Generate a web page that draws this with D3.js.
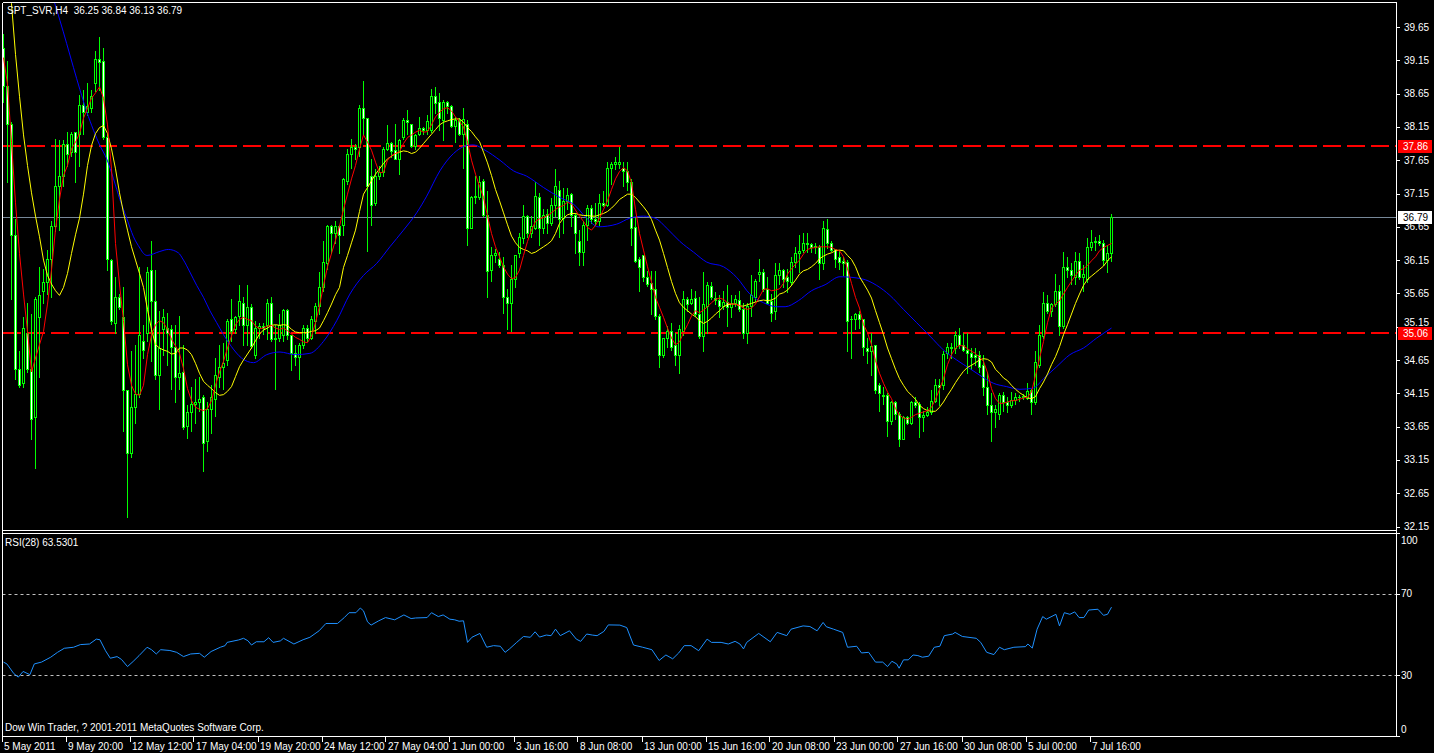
<!DOCTYPE html>
<html><head><meta charset="utf-8">
<script src="https://cdn.jsdelivr.net/npm/d3@7"></script>
<style>
body{margin:0;background:#000;overflow:hidden}
svg text{font-family:"Liberation Sans",Arial,sans-serif;font-size:10px;fill:#fff}
</style></head>
<body><svg id="c" width="1434" height="753"></svg>
<script>
const symbolTitle = "SPT_SVR,H4  36.25 36.84 36.13 36.79";
const rsiTitle = "RSI(28) 63.5301";
const footer = "Dow Win Trader, ? 2001-2011 MetaQuotes Software Corp.";

const openP = [39.34,38.76,38.20,36.53,34.52,34.30,35.06,34.52,33.79,35.29,35.69,35.82,36.17,36.66,37.26,37.42,37.90,37.77,38.08,38.05,
38.48,38.38,38.43,38.81,39.17,39.14,38.00,36.15,35.21,35.59,35.29,34.20,33.26,33.94,34.14,34.93,35.06,36.00,35.54,34.42,
35.11,35.13,35.11,34.85,34.40,34.47,33.66,33.87,33.99,34.02,34.09,33.43,33.92,34.07,34.40,34.55,34.65,35.26,35.11,35.31,
35.51,35.18,35.44,34.73,35.13,35.16,35.18,35.51,34.96,34.98,35.03,35.40,35.03,34.75,34.70,34.88,35.13,34.98,35.24,35.46,
35.74,36.10,36.66,36.55,36.66,36.68,37.34,37.75,37.85,37.85,38.44,38.28,37.42,37.01,37.42,37.47,37.82,37.91,37.80,37.67,
38.00,38.25,38.20,37.87,38.05,38.13,38.10,38.10,38.62,38.52,38.25,38.53,38.46,38.17,38.25,38.05,38.19,36.63,37.10,37.09,
37.34,36.83,36.00,36.22,36.17,36.07,35.59,35.51,35.87,36.25,36.48,36.81,36.55,36.63,37.10,36.63,36.84,36.71,36.98,37.21,
36.78,37.04,37.14,36.83,36.43,36.27,36.68,36.93,36.76,36.73,37.01,36.98,37.54,37.59,37.60,37.54,37.49,37.32,36.65,36.17,
36.22,35.89,35.81,35.72,35.31,34.73,34.98,35.08,34.88,34.73,35.08,35.56,35.51,35.58,35.34,35.01,35.46,35.76,35.58,35.55,
35.46,35.52,35.44,35.51,35.55,35.41,35.06,35.46,35.59,35.94,35.97,35.72,35.54,35.39,35.92,36.00,35.89,35.82,36.12,36.25,
36.30,36.40,36.39,36.34,36.35,36.10,36.62,36.40,36.31,36.19,36.13,36.12,35.26,35.26,35.34,35.26,34.83,34.78,34.88,34.27,
34.13,34.12,33.74,34.02,33.84,33.47,33.79,33.71,34.02,33.99,33.79,33.82,33.87,34.04,34.28,34.27,34.75,34.85,34.83,35.03,
34.87,34.80,34.75,34.72,34.73,34.57,34.25,33.97,33.87,33.84,34.13,34.02,33.98,34.05,34.10,34.09,34.08,34.20,34.02,34.58,
35.01,35.50,35.39,35.49,35.69,35.16,36.05,36.00,35.89,36.14,35.89,35.87,36.35,36.42,36.44,36.41,36.15,36.25];

const highP = [39.55,39.14,38.23,36.76,34.78,35.29,35.51,35.34,35.59,36.05,36.02,36.30,36.73,37.97,37.95,37.95,38.08,38.08,38.08,38.63,
38.71,38.81,38.71,39.29,39.50,39.34,38.03,36.17,35.90,35.64,35.74,34.20,34.78,34.88,36.05,35.18,36.05,36.43,36.00,35.39,
35.41,35.36,35.18,35.18,35.31,34.88,33.97,34.25,34.37,34.40,34.12,34.02,34.27,34.68,34.88,34.91,35.26,35.57,35.31,35.77,
35.59,35.77,35.49,35.24,35.21,35.21,35.57,35.59,35.18,35.34,35.41,35.41,35.03,34.88,34.91,35.18,35.18,35.31,35.51,35.97,
36.43,36.68,36.68,36.73,36.68,37.39,37.82,37.97,37.90,38.48,38.84,38.28,37.67,37.52,37.57,37.85,38.18,37.92,38.20,37.97,
38.28,38.41,38.20,38.05,38.30,38.15,38.33,38.72,38.75,38.66,38.56,38.54,38.48,38.30,38.28,38.43,38.25,37.11,37.42,37.42,
37.37,37.19,36.35,36.32,36.27,36.20,35.72,36.07,36.22,36.55,36.98,36.83,36.81,37.32,37.16,36.91,36.91,37.08,37.52,37.34,
37.24,37.24,37.16,36.86,36.60,36.73,36.98,36.97,37.01,37.14,37.19,37.62,37.62,37.70,37.85,37.62,37.62,37.37,36.78,36.20,
36.22,35.99,35.99,35.99,35.34,34.98,35.16,35.21,35.06,35.18,35.69,35.59,35.72,35.69,35.59,35.97,35.82,35.82,35.67,35.62,
35.69,35.77,35.62,35.62,35.69,35.51,35.51,35.92,35.87,36.17,36.02,35.89,35.64,36.10,36.10,36.02,36.02,36.20,36.35,36.53,
36.55,36.55,36.40,36.40,36.38,36.73,36.77,36.43,36.32,36.30,36.20,36.15,35.31,35.36,35.39,35.26,34.98,35.06,34.88,34.30,
34.25,34.15,34.04,34.04,33.87,33.81,33.81,34.04,34.09,34.02,33.89,33.94,34.20,34.37,34.37,34.78,34.91,34.91,35.08,35.13,
35.06,35.06,34.83,34.83,34.78,34.73,34.47,34.15,33.97,34.15,34.17,34.09,34.17,34.15,34.12,34.14,34.30,34.22,34.78,35.18,
35.67,35.62,35.51,35.94,35.77,36.27,36.20,36.10,36.27,36.25,36.07,36.48,36.60,36.50,36.53,36.45,36.37,36.84];

const lowP = [38.53,37.32,35.57,34.37,34.25,34.25,34.47,33.46,33.03,34.40,35.51,35.64,35.59,36.58,36.60,37.26,37.57,37.72,37.32,37.57,
38.05,38.33,38.38,38.69,38.71,37.97,36.00,35.19,35.06,35.41,33.59,32.29,33.20,33.71,34.10,34.68,34.93,34.63,34.37,33.92,
34.73,34.58,34.22,34.02,34.22,33.61,33.48,33.59,33.71,33.89,32.98,33.28,33.56,33.81,34.25,34.22,34.58,34.93,35.06,35.18,
34.88,34.88,34.83,34.68,34.98,35.04,34.96,34.93,34.22,34.93,34.93,34.96,34.50,34.57,34.37,34.83,34.93,34.96,35.06,35.34,
35.69,36.02,36.25,36.40,36.25,36.53,37.29,37.54,37.67,37.72,38.03,36.28,36.68,36.98,37.37,37.42,37.80,37.70,37.67,37.44,
37.97,38.05,37.85,37.82,38.03,38.05,38.05,38.08,38.36,38.10,37.95,38.36,38.15,37.92,38.03,37.54,36.38,36.63,37.01,37.06,
36.81,35.59,35.84,36.12,36.05,35.36,35.11,35.08,35.74,36.20,36.40,36.50,36.50,36.61,36.38,36.55,36.55,36.68,36.81,36.50,
36.55,36.91,36.66,36.25,36.07,36.07,36.45,36.71,36.68,36.68,36.96,36.96,37.29,37.52,37.54,37.26,37.21,36.38,36.12,35.69,
35.84,35.76,35.34,35.26,34.55,34.70,34.85,34.80,34.57,34.45,35.03,35.39,35.49,35.31,34.98,34.78,35.06,35.56,35.49,35.29,
35.41,35.16,35.29,35.46,35.39,34.98,34.91,35.31,35.54,35.84,35.69,35.49,35.24,35.26,35.79,35.74,35.67,35.77,36.05,35.97,
36.27,36.27,36.27,36.25,35.87,36.02,36.33,36.28,36.05,36.02,35.92,34.78,34.68,35.11,35.13,34.73,34.60,34.42,34.15,33.89,
33.99,33.51,33.69,33.76,33.36,33.46,33.69,33.69,33.94,33.49,33.59,33.81,33.84,34.02,33.97,34.22,34.68,34.68,34.75,34.83,
34.78,34.45,34.52,34.57,34.47,34.12,33.84,33.43,33.64,33.76,33.89,33.87,33.94,33.99,34.04,34.07,34.07,33.84,33.99,34.55,
34.98,35.36,35.31,35.46,35.03,35.13,35.89,35.79,35.79,35.87,35.69,35.82,36.30,36.30,36.38,36.07,35.97,36.13];

const closeP = [38.76,38.20,36.53,34.52,34.27,35.13,34.52,33.76,35.57,35.62,35.82,36.17,36.66,37.26,37.42,37.90,37.75,38.05,37.77,38.48,
38.38,38.46,38.61,39.17,39.12,38.00,36.17,35.24,35.59,35.44,34.20,33.26,33.94,34.14,35.03,34.80,35.97,35.54,34.42,34.83,
35.29,35.06,34.85,34.40,34.45,33.64,33.87,33.99,34.02,34.07,33.41,33.92,34.09,34.42,34.55,34.60,35.24,35.08,35.29,35.54,
35.18,35.44,34.86,35.13,35.16,35.13,35.51,34.96,34.98,35.18,35.40,35.03,34.75,34.70,34.88,35.13,34.98,35.26,35.46,35.74,
36.12,36.66,36.55,36.66,36.53,37.37,37.75,37.85,37.82,38.44,38.28,37.26,36.98,37.42,37.47,37.82,37.91,37.79,37.67,37.95,
38.25,38.22,37.87,38.03,38.13,38.10,38.24,38.62,38.51,38.28,38.53,38.46,38.17,38.25,38.04,38.27,36.63,37.10,37.11,37.33,
36.83,35.98,36.22,36.25,36.07,35.59,35.51,35.87,36.22,36.50,36.81,36.55,36.66,37.11,36.63,36.83,36.71,36.98,37.26,36.76,
37.04,37.12,36.83,36.55,36.27,36.68,36.93,36.76,36.73,37.01,36.98,37.54,37.59,37.62,37.63,37.49,37.32,36.63,36.13,36.05,
35.89,35.79,35.72,35.31,34.73,34.98,35.08,34.85,34.73,35.11,35.57,35.49,35.56,35.34,35.01,35.49,35.77,35.60,35.55,35.46,
35.52,35.44,35.51,35.56,35.41,35.06,35.46,35.62,35.84,35.97,35.72,35.51,35.36,35.92,36.00,35.87,35.84,36.12,36.26,36.29,
36.40,36.39,36.34,36.36,36.10,36.63,36.40,36.30,36.17,36.12,36.11,35.24,35.27,35.34,35.26,34.84,34.78,34.86,34.20,34.15,
34.11,33.74,34.02,33.84,33.47,33.79,33.71,34.02,33.97,33.79,33.82,33.87,34.04,34.28,34.25,34.74,34.85,34.83,35.03,34.87,
34.80,34.75,34.70,34.69,34.55,34.25,33.97,33.87,33.92,34.12,34.02,33.98,34.05,34.10,34.09,34.11,34.19,34.02,34.62,35.03,
35.51,35.39,35.49,35.68,35.16,36.05,36.00,35.92,36.14,35.89,35.94,36.35,36.42,36.44,36.41,36.15,36.25,36.79];

const maRed = [39.19,38.79,37.92,37.01,36.25,35.64,35.08,34.47,34.68,34.88,35.08,35.49,36.00,36.61,37.06,37.42,37.57,37.82,37.92,38.05,
38.28,38.43,38.58,38.66,38.75,38.58,38.18,37.52,36.40,35.79,35.24,34.58,34.27,34.14,34.12,34.27,34.73,35.03,35.18,35.24,
35.21,35.11,34.96,34.86,34.75,34.52,34.22,34.04,33.94,33.91,33.89,33.92,34.04,34.27,34.47,34.63,34.83,35.01,35.18,35.26,
35.29,35.26,35.24,35.16,35.12,35.13,35.16,35.17,35.13,35.11,35.13,35.09,35.04,34.99,34.96,34.92,34.91,35.01,35.21,35.46,
35.77,36.05,36.25,36.45,36.66,36.91,37.14,37.37,37.57,37.82,38.03,37.92,37.80,37.62,37.46,37.47,37.65,37.72,37.75,37.78,
37.90,37.99,38.03,38.07,38.10,38.07,38.08,38.18,38.30,38.37,38.42,38.44,38.39,38.30,38.23,38.15,37.92,37.65,37.44,37.26,
37.09,36.81,36.55,36.35,36.20,36.05,35.94,35.87,35.89,36.00,36.22,36.43,36.60,36.73,36.77,36.79,36.82,36.86,36.91,36.95,
36.97,37.02,36.99,36.90,36.81,36.73,36.64,36.60,36.67,36.78,36.91,37.04,37.21,37.37,37.48,37.54,37.49,37.31,36.91,36.55,
36.30,36.05,35.82,35.59,35.44,35.29,35.13,34.98,34.88,34.92,35.06,35.18,35.31,35.39,35.36,35.40,35.45,35.51,35.56,35.58,
35.56,35.51,35.49,35.49,35.47,35.43,35.41,35.43,35.49,35.60,35.71,35.72,35.69,35.70,35.72,35.80,35.94,36.02,36.09,36.15,
36.24,36.31,36.33,36.34,36.35,36.35,36.35,36.34,36.31,36.29,36.20,36.02,35.80,35.59,35.43,35.18,35.06,34.88,34.64,34.45,
34.30,34.17,34.07,33.92,33.82,33.78,33.76,33.79,33.83,33.85,33.87,33.89,33.94,34.06,34.21,34.37,34.58,34.73,34.83,34.87,
34.86,34.82,34.78,34.75,34.69,34.63,34.46,34.22,34.07,34.00,34.00,34.02,34.04,34.04,34.06,34.08,34.09,34.17,34.42,34.67,
34.93,35.21,35.43,35.49,35.54,35.64,35.74,35.83,35.92,36.00,36.02,36.07,36.14,36.20,36.29,36.34,36.37,36.40];

const maYellow = [41.40,40.70,40.00,39.24,38.61,38.03,37.57,37.16,36.81,36.50,36.15,35.92,35.79,35.69,35.62,35.74,35.95,36.25,36.53,36.78,
37.14,37.57,37.87,38.05,38.14,38.17,38.05,37.82,37.52,37.16,36.86,36.60,36.35,36.15,35.95,35.74,35.41,35.11,34.88,34.83,
34.80,34.78,34.74,34.75,34.83,34.83,34.80,34.73,34.60,34.45,34.33,34.27,34.22,34.16,34.12,34.13,34.18,34.25,34.40,34.55,
34.65,34.74,34.83,34.94,35.04,35.10,35.13,35.17,35.18,35.17,35.18,35.17,35.11,35.07,35.06,35.06,35.06,35.08,35.09,35.13,
35.24,35.36,35.49,35.63,35.74,36.04,36.22,36.41,36.60,36.88,37.14,37.24,37.34,37.44,37.52,37.60,37.67,37.71,37.75,37.77,
37.79,37.78,37.75,37.77,37.83,37.90,37.97,38.04,38.11,38.18,38.22,38.24,38.26,38.27,38.27,38.22,38.14,38.08,38.00,37.93,
37.77,37.61,37.42,37.21,37.04,36.86,36.68,36.51,36.41,36.34,36.31,36.29,36.25,36.27,36.31,36.35,36.39,36.44,36.55,36.70,
36.78,36.83,36.85,36.85,36.83,36.82,36.82,36.81,36.81,36.83,36.85,36.88,36.93,36.99,37.06,37.10,37.14,37.14,37.09,37.02,
36.95,36.87,36.76,36.60,36.45,36.25,36.04,35.83,35.65,35.51,35.44,35.39,35.34,35.30,35.24,35.20,35.23,35.28,35.34,35.39,
35.45,35.48,35.49,35.49,35.46,35.46,35.48,35.50,35.52,35.54,35.55,35.54,35.55,35.58,35.64,35.66,35.70,35.77,35.85,35.94,
35.99,36.01,36.05,36.10,36.17,36.21,36.24,36.26,36.29,36.30,36.29,36.22,36.16,36.05,35.90,35.80,35.70,35.58,35.39,35.21,
35.03,34.83,34.67,34.51,34.37,34.27,34.18,34.12,34.06,33.97,33.92,33.89,33.88,33.88,33.94,34.02,34.12,34.21,34.31,34.40,
34.48,34.54,34.57,34.61,34.65,34.67,34.66,34.62,34.51,34.45,34.38,34.34,34.27,34.21,34.16,34.12,34.08,34.07,34.10,34.22,
34.32,34.44,34.58,34.70,34.85,35.03,35.18,35.34,35.50,35.64,35.77,35.86,35.91,35.96,36.01,36.06,36.14,36.20];

const blueBar = [10,12.5,14.1,15.8,17.5,19.1,20.8,22.5,24.1,25.8,27.5,29.1,30.8,32.5,34.1,35,35.9,39.1,41.2,43.7,
45,46.6,48.3,50,51.6,53.3,55,57,59.5,62.5,65.8,69.1,72.9,76.6,80,83.3,86.6,90,93.3,96.6,
100,103.3,105.8,109.1,112.5,115.8,117.5,120.4,124.1,127.5,130.8,135,139.1,142.5,145.8,148.7,153.3,156.6,160,162.9,
165.8,169.1,172.5,175.8,180,183.3,186.6,190,193.3,195.4,198.7,202,205.4,209.1,214.5,218.3,221.6,225,228.3,231.6,
235,238.3,241.6,244.1,247.5,250.8,254.1,257.5,260,263.3,266.6,270,273.3,277];
const maBlue = [40.42,40.06,39.75,39.40,39.04,38.71,38.38,38.10,37.87,37.67,37.37,37.06,36.78,36.50,36.33,36.25,36.22,36.28,36.31,36.26,
36.15,35.97,35.77,35.59,35.39,35.21,35.03,34.85,34.68,34.61,34.73,34.77,34.73,34.75,34.93,35.24,35.64,35.92,36.10,36.35,
36.60,36.86,37.11,37.49,37.75,37.87,37.88,37.80,37.65,37.49,37.41,37.24,37.09,36.99,36.78,36.65,36.69,36.78,36.81,36.78,
36.63,36.43,36.27,36.12,36.05,35.89,35.64,35.51,35.45,35.45,35.54,35.69,35.78,35.90,35.87,35.77,35.62,35.41,35.21,35.01,
34.80,34.65,34.52,34.42,34.30,34.25,34.21,34.23,34.37,34.55,34.73,34.83,34.98,35.13];

const rsiBar = [0,0.85,2.6,3.7,4.9,6.6,7.7,9.5,11.8,13.5,15.2,17.5,19.2,21.5,23.2,24.1,25.5,26.7,28.4,29.5,
31,32.4,33.9,35.9,37,38.2,39.3,41.6,43.3,45,46.8,49,50.2,51.9,54.2,55.4,55.9,58.8,60,61.1,
62,63.2,65.1,66.3,67.4,69.2,70,72.6,74.9,76.6,78.9,80.6,83.5,85.2,86.4,88.1,89.2,90,91,91.9,
93.8,95.5,97.8,100.1,101.9,103,105.9,107,108.7,109.9,111.6,112.8,113.9,115,116,117.1,119.1,120.8,122.5,124.2,
125.4,126.5,128.3,130,131.7,132.9,134,135.7,136.9,138,139.2,141.5,143.2,144.3,145.8,147.2,148.4,150.1,151.2,154.1,
155.8,157.5,159.8,162.1,163.9,165.6,167.3,168.8,170.2,171.9,173.8,175.9,177,179.4,181.2,182.9,184.1,185,185.8,188.8,
191.7,193.4,195.8,196.9,199.9,201.6,203.4,204.9,205.7,207.5,209.8,211,213.3,214.5,216.3,218,219.8,221,222.1,223.3,
223.9,225,226.2,227.4,228.6,229.7,231.3,232.7,234.1,235.2,237.3,237.9,239.7,243.2,244.3,245.8,247.6,249,250.2,252.6,
255.5,256.1,257.2,258.4,259.8,260.7,263.1,264,265.2,266.6,267.8,268.9,270.1,271.3,273.6,275,276,277];
const rsiVal = [36.5,35.6,30.8,29.1,31.9,30.3,35.6,36.5,38.9,41.3,43.3,43.8,45.1,45.4,47.8,47.5,42.1,38.4,39.2,37.8,
34.3,36.8,39.7,43.8,42.6,40.5,42.6,42.2,41.3,39.2,40.5,40.8,38.9,41.7,43.8,44.6,46.2,47.4,48.2,47.0,
44.9,46.5,46.5,48.5,46.2,46.9,48.2,45.4,47.5,48.7,51.9,55.5,55.5,58.4,60.8,60.8,63.1,61.7,56.3,54.7,
56.8,58.4,57.3,59.7,57.9,58.2,58.4,60.8,58.9,59.7,57.6,57.3,56.6,56.8,46.2,48.7,50.6,43.8,44.6,44.3,
41.3,43.0,46.2,49.1,48.7,51.4,48.8,49.8,49.5,52.7,49.5,51.9,47.8,46.7,50.3,49.8,49.5,51.6,54.8,54.7,
53.5,44.9,43.8,42.6,37.3,40.0,38.1,41.0,44.6,44.6,42.1,47.8,46.2,46.2,45.4,46.7,45.4,43.0,46.2,50.6,
46.5,51.1,49.5,52.7,54.3,54.0,51.9,56.0,53.9,52.7,51.1,43.8,44.3,41.0,41.3,36.5,36.5,34.3,36.9,35.6,
33.5,37.6,37.6,40.0,39.7,38.9,39.4,43.8,44.3,49.5,50.3,51.1,49.1,48.2,46.2,41.3,40.2,43.8,42.6,43.8,
44.1,45.4,43.4,52.7,58.9,57.6,60.0,54.3,60.8,60.0,61.2,58.4,58.4,62.1,62.5,59.5,60.0,63.53];

const priceTicks = [39.65,39.15,38.65,38.15,37.65,37.15,36.65,36.15,35.65,35.15,34.65,34.15,33.65,33.15,32.65,32.15];
const hLevels = [37.86, 35.06];
const bidPrice = 36.79;
const rsiLevels = [70, 30];
const rsiTickLabels = [100, 70, 30, 0];
const timeLabels = ["5 May 2011","9 May 20:00","12 May 12:00","17 May 04:00","19 May 20:00","24 May 12:00","27 May 04:00","1 Jun 00:00","3 Jun 16:00","8 Jun 08:00","13 Jun 00:00","15 Jun 16:00","20 Jun 08:00","23 Jun 00:00","27 Jun 16:00","30 Jun 08:00","5 Jul 00:00","7 Jul 16:00"];
const timeBars = [0,16,32,48,64,80,96,112,128,144,160,176,192,208,224,240,256,272];

const svg = d3.select("#c");
svg.append("rect").attr("width",1434).attr("height",753).attr("fill","#000");

const L = 2.5, R = 1396.5, PT = 2.5, PB = 530.5, RT = 533.5, RB = 736.5;
const x = d3.scaleLinear().domain([0, 277]).range([3.5, 1111.5]);
const y = d3.scaleLinear().domain([32.15, 39.65]).range([526.5, 27]);
const yr = d3.scaleLinear().domain([0, 100]).range([736.3, 533]);

const defs = svg.append("defs");
defs.append("clipPath").attr("id","cp").append("rect").attr("x",L+0.5).attr("y",PT+0.5).attr("width",R-L-1).attr("height",PB-PT-1);
defs.append("clipPath").attr("id","cr").append("rect").attr("x",L+0.5).attr("y",RT+0.5).attr("width",R-L-1).attr("height",RB-RT-1);

const gp = svg.append("g").attr("clip-path","url(#cp)");

gp.selectAll("line.lvl").data(hLevels).join("line")
  .attr("x1",L).attr("x2",R).attr("y1",d=>Math.round(y(d))).attr("y2",d=>Math.round(y(d)))
  .attr("stroke","#ff0000").attr("stroke-width",2).attr("stroke-dasharray","18,6").attr("stroke-dashoffset",-0.5);
gp.append("line").attr("x1",L).attr("x2",R).attr("y1",Math.round(y(bidPrice))+0.5).attr("y2",Math.round(y(bidPrice))+0.5)
  .attr("stroke","#778899").attr("stroke-width",1);

const bars = d3.range(openP.length).map(i=>({i,o:openP[i],h:highP[i],l:lowP[i],c:closeP[i]}));
const cg = gp.append("g").attr("shape-rendering","crispEdges");
cg.selectAll("line.w").data(bars).join("line")
  .attr("x1",d=>x(d.i)).attr("x2",d=>x(d.i))
  .attr("y1",d=>Math.round(y(Math.max(d.h,d.o,d.c)))).attr("y2",d=>Math.round(y(Math.min(d.l,d.o,d.c)))+1)
  .attr("stroke","#00ff00").attr("stroke-width",1);
cg.selectAll("rect.b").data(bars).join("rect")
  .attr("x",d=>x(d.i)-1.5).attr("width",3)
  .attr("y",d=>Math.round(y(Math.max(d.o,d.c))))
  .attr("height",d=>Math.max(1,Math.round(y(Math.min(d.o,d.c)))-Math.round(y(Math.max(d.o,d.c)))+1))
  .attr("fill","#00ff00");
cg.selectAll("rect.in").data(bars.filter(d=>Math.round(y(Math.min(d.o,d.c)))-Math.round(y(Math.max(d.o,d.c)))>=2)).join("rect")
  .attr("x",d=>x(d.i)-0.5).attr("width",1)
  .attr("y",d=>Math.round(y(Math.max(d.o,d.c)))+1)
  .attr("height",d=>Math.round(y(Math.min(d.o,d.c)))-Math.round(y(Math.max(d.o,d.c)))-1)
  .attr("fill",d=>d.c>=d.o?"#000":"#fff");

const lineIdx = d3.line().x(d=>x(d[0])).y(d=>y(d[1]));
gp.append("path").datum(maBlue.map((v,k)=>[blueBar[k],v])).attr("d",lineIdx.curve(d3.curveMonotoneX))
  .attr("fill","none").attr("stroke","#0000ff").attr("stroke-width",1);
gp.append("path").datum(maYellow.map((v,i)=>[i,v])).attr("d",d3.line().x(d=>x(d[0])).y(d=>y(d[1])))
  .attr("fill","none").attr("stroke","#ffff00").attr("stroke-width",1);
gp.append("path").datum(maRed.map((v,i)=>[i,v])).attr("d",d3.line().x(d=>x(d[0])).y(d=>y(d[1])))
  .attr("fill","none").attr("stroke","#ff0000").attr("stroke-width",1);

const gr = svg.append("g").attr("clip-path","url(#cr)");
gr.selectAll("line.rl").data(rsiLevels).join("line")
  .attr("x1",L).attr("x2",R).attr("y1",d=>Math.round(yr(d))+0.5).attr("y2",d=>Math.round(yr(d))+0.5)
  .attr("stroke","#c0c0c0").attr("stroke-width",1).attr("stroke-dasharray","3,3");
gr.append("path").datum(rsiVal.map((v,k)=>[rsiBar[k],v]))
  .attr("d",d3.line().x(d=>x(d[0])).y(d=>yr(d[1])))
  .attr("fill","none").attr("stroke","#1e90ff").attr("stroke-width",1);

const fr = svg.append("g").attr("stroke","#fff").attr("stroke-width",1).attr("shape-rendering","crispEdges");
fr.append("line").attr("x1",L).attr("x2",R).attr("y1",PT).attr("y2",PT);
fr.append("line").attr("x1",L).attr("x2",R).attr("y1",PB).attr("y2",PB);
fr.append("line").attr("x1",L).attr("x2",R).attr("y1",RT).attr("y2",RT);
fr.append("line").attr("x1",L).attr("x2",R).attr("y1",RB).attr("y2",RB);
fr.append("line").attr("x1",L).attr("x2",L).attr("y1",PT).attr("y2",RB);
fr.append("line").attr("x1",R).attr("x2",R).attr("y1",PT).attr("y2",RB);

// price axis; a tick label that would sit under a level tag is nudged just above it
const tagYs = hLevels.concat([bidPrice]).map(v=>Math.round(y(v)));
const ax = svg.append("g");
ax.selectAll("line.pt").data(priceTicks).join("line")
  .attr("x1",R).attr("x2",R+3).attr("y1",d=>Math.round(y(d))+0.5).attr("y2",d=>Math.round(y(d))+0.5)
  .attr("stroke","#fff").attr("shape-rendering","crispEdges");
ax.selectAll("text.pt").data(priceTicks).join("text")
  .attr("x",1404).attr("y",d=>{
    const ty = y(d);
    const hit = tagYs.find(t=>Math.abs(t-ty)<8);
    if (hit===undefined) return ty+3.5;
    return ty < hit ? hit-7 : hit+17;
  }).text(d=>d.toFixed(2));
hLevels.forEach(v=>{
  const yy = Math.round(y(v));
  ax.append("rect").attr("x",1398).attr("y",yy-6).attr("width",34).attr("height",13).attr("fill","#ff0000");
  ax.append("text").attr("x",1403).attr("y",yy+4).text(v.toFixed(2)).style("fill","#fff");
});
{
  const yy = Math.round(y(bidPrice));
  ax.append("rect").attr("x",1398).attr("y",yy-6).attr("width",34).attr("height",13).attr("fill","#fff");
  ax.append("text").attr("x",1403).attr("y",yy+4).text(bidPrice.toFixed(2)).style("fill","#000");
}
ax.selectAll("line.rt").data(rsiTickLabels).join("line")
  .attr("x1",R).attr("x2",R+3).attr("y1",d=>Math.round(yr(d))+0.5).attr("y2",d=>Math.round(yr(d))+0.5)
  .attr("stroke","#fff").attr("shape-rendering","crispEdges");
ax.selectAll("text.rt").data(rsiTickLabels).join("text")
  .attr("x",1401).attr("y",d=>Math.min(733,Math.max(544,yr(d)+3.5))).text(d=>d);

ax.selectAll("line.tt").data(timeBars).join("line")
  .attr("x1",d=>Math.round(x(d))-1.5).attr("x2",d=>Math.round(x(d))-1.5).attr("y1",RB).attr("y2",RB+5)
  .attr("stroke","#fff").attr("shape-rendering","crispEdges");
ax.selectAll("text.tt").data(timeLabels).join("text")
  .attr("x",(d,k)=>x(timeBars[k])+0.5).attr("y",750).text(d=>d);

svg.append("text").attr("x",7).attr("y",14).style("white-space","pre").text(symbolTitle);
svg.append("text").attr("x",5).attr("y",546).text(rsiTitle);
svg.append("text").attr("x",5).attr("y",731).text(footer);
</script></body></html>
